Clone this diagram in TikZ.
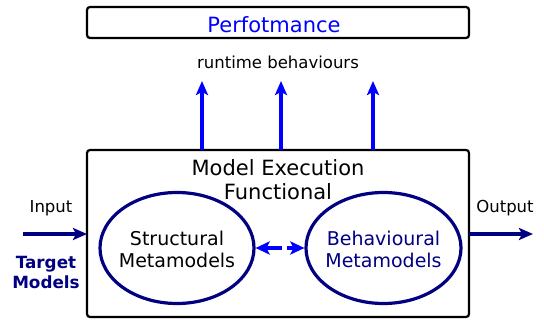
\documentclass[tikz,border=0pt]{standalone}
\usepackage{fontspec}
\setmainfont{DejaVu Sans}
\usetikzlibrary{arrows.meta,shapes.geometric}
\definecolor{navyc}{RGB}{0,0,128}
\definecolor{bluec}{RGB}{0,0,255}
\tikzset{
  frame/.style={draw=black, line width=2.2pt, rounded corners=3pt},
  metaell/.style={draw=navyc, line width=3.2pt, ellipse, inner sep=0pt, minimum width=154pt, minimum height=111pt},
  metatxt/.style={align=center, inner sep=0pt, font=\fontsize{19}{22}\selectfont},
  uparrow/.style={draw=bluec, line width=3.4pt, -{Stealth[length=14pt,width=12pt,inset=3pt]}},
  ioarrow/.style={draw=navyc, line width=3.4pt, -{Stealth[length=14pt,width=12pt,inset=3pt]}},
  lbl/.style={font=\fontsize{16.5}{20}\selectfont, inner sep=0pt}
}
\begin{document}
\begin{tikzpicture}[x=1pt,y=-1pt]
\useasboundingbox (0,0) rectangle (544,320);
% top box
\draw[frame] (87,7) rectangle (469,38);
\node[font=\fontsize{21}{24}\selectfont, text=bluec, inner sep=0pt] (perf) at (274,25) {Perfotmance};
\node[lbl] (rt) at (278,62) {runtime behaviours};
% main box
\draw[frame, fill=white] (87,150) rectangle (469,317);
\node[font=\fontsize{21}{24}\selectfont, align=center, inner sep=0pt] (mef) at (278,180) {Model Execution\\Functional};
% up arrows
\coordinate (u1s) at (202,150); \coordinate (u1e) at (202,81);
\coordinate (u2s) at (281,150); \coordinate (u2e) at (281,81);
\coordinate (u3s) at (373,150); \coordinate (u3e) at (373,81);
\draw[uparrow] (u1s) -- (u1e);
\draw[uparrow] (u2s) -- (u2e);
\draw[uparrow] (u3s) -- (u3e);
% ellipses
\node[metaell] (sm) at (177,248) {};
\node[metatxt] (smt) at (177,249) {Structural\\Metamodels};
\node[metaell, minimum width=155pt] (bm) at (383.5,248) {};
\node[metatxt, text=navyc] (bmt) at (383.5,249) {Behavioural\\Metamodels};
\draw[draw=bluec, line width=3.2pt, dash pattern=on 16pt off 5pt, {Stealth[length=14pt,width=13pt,inset=3pt]}-{Stealth[length=14pt,width=13pt,inset=3pt]}] (sm.east) -- (bm.west);
% input
\coordinate (inS) at (23,234); \coordinate (inE) at (87,234);
\draw[ioarrow] (inS) -- (inE);
\node[lbl] (inp) at (51,208) {Input};
\node[font=\bfseries\fontsize{16.8}{20}\selectfont, text=navyc, align=center, inner sep=0pt] (tm) at (46,272) {Target\\Models};
% output
\coordinate (outS) at (469,234); \coordinate (outE) at (533,234);
\draw[ioarrow] (outS) -- (outE);
\node[lbl] (outp) at (505,208) {Output};
\end{tikzpicture}
\end{document}
